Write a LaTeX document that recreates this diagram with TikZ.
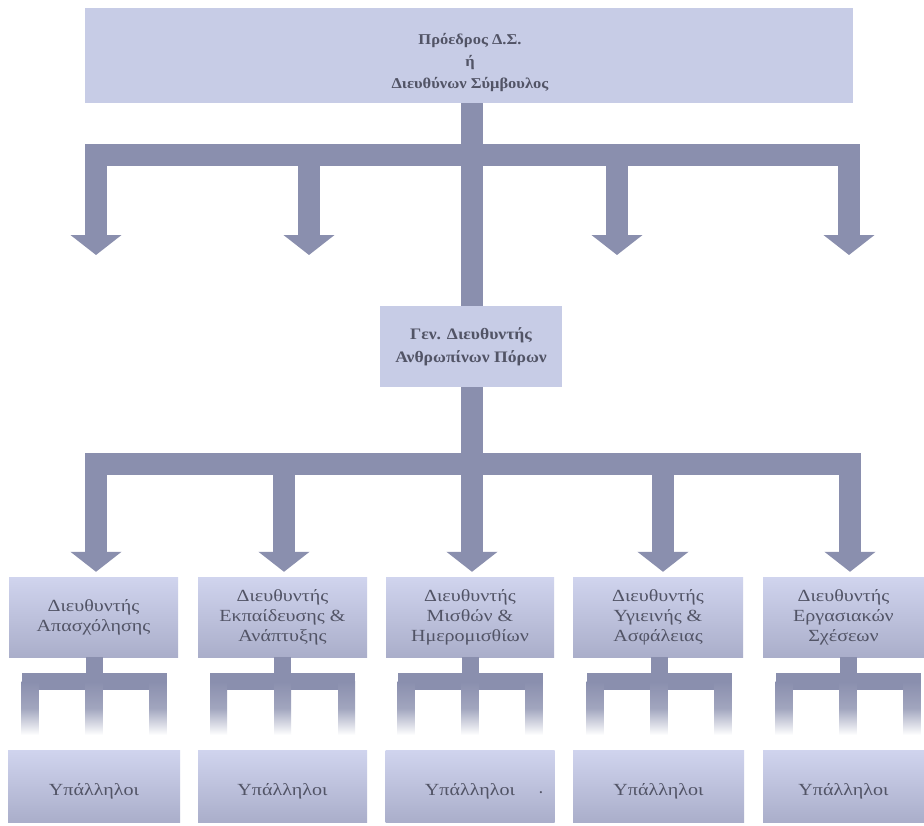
\documentclass[tikz,border=0pt]{standalone}
\usepackage{fontspec}
\setmainfont{Liberation Serif}
\newfontfamily\widefont[FakeStretch=1.18]{Liberation Serif}
\newfontfamily\headfont[FakeStretch=1.1]{Liberation Serif}
\usetikzlibrary{arrows.meta}
\definecolor{boxtop}{RGB}{208,212,238}
\definecolor{boxbot}{RGB}{170,174,202}
\definecolor{boxflat}{RGB}{199,204,230}
\definecolor{pipecol}{RGB}{138,143,174}
\definecolor{txt}{RGB}{82,84,102}
\begin{document}
\begin{tikzpicture}[x=1pt,y=-1pt,
  flatbox/.style={fill=boxflat, draw=none, inner sep=0pt, align=center, text=txt},
  gradbox/.style={top color=boxtop, bottom color=boxbot, draw=none, inner sep=0pt, align=center, text=txt,
    minimum width=169pt, font=\widefont\fontsize{17}{20}\selectfont},
  empbox/.style={gradbox, minimum height=72pt, text height=22pt, text depth=4pt},
  pipe/.style={draw=pipecol, line width=22pt},
  pipearrow/.style={pipe, -{Triangle[width=50pt,length=20pt]}},
  forkpipe/.style={draw=pipecol, line width=17pt},
  forkleg/.style={top color=pipecol, bottom color=white, middle color=pipecol!80!white}]
\fill[white] (0,0) rectangle (924,825);
\useasboundingbox (0,0) rectangle (924,825);

% top box
\node[flatbox, minimum width=768pt, minimum height=95pt] (top) at (469,55.5) {};
\node[text=txt, inner sep=0pt, align=center, font=\headfont\bfseries\fontsize{15}{22}\selectfont] (toptext) at (470,63)
  {Πρόεδρος Δ.Σ.\\ή\\Διευθύνων Σύμβουλος};
% middle box
\node[flatbox, minimum width=182pt, minimum height=81pt, font=\headfont\bfseries\fontsize{16}{23}\selectfont] (mid) at (471,346.5)
  {Γεν. Διευθυντής\\Ανθρωπίνων Πόρων};

% director boxes
\node[gradbox, minimum height=80pt, minimum width=169pt] (d1) at (93.5,617) {Διευθυντής\\Απασχόλησης};
\node[gradbox, minimum height=80pt, minimum width=169pt] (d2) at (282.5,617) {Διευθυντής\\Εκπαίδευσης \&\\Ανάπτυξης};
\node[gradbox, minimum height=80pt, minimum width=168pt] (d3) at (470,617) {Διευθυντής\\Μισθών \&\\Ημερομισθίων};
\node[gradbox, minimum height=80pt, minimum width=170pt] (d4) at (658,617) {Διευθυντής\\Υγιεινής \&\\Ασφάλειας};
\node[gradbox, minimum height=80pt, minimum width=161pt] (d5) at (843.5,617) {Διευθυντής\\Εργασιακών\\Σχέσεων};

% employee boxes
\node[empbox, minimum width=172pt] (e1) at (94,786) {Υπάλληλοι};
\node[empbox, minimum width=169pt] (e2) at (282.5,786) {Υπάλληλοι};
\node[empbox, minimum width=169pt] (e3) at (470,786) {Υπάλληλοι};
\node[empbox, minimum width=171pt] (e4) at (658.5,786) {Υπάλληλοι};
\node[empbox, minimum width=161pt] (e5) at (843.5,786) {Υπάλληλοι};
\node[text=txt, inner sep=0pt, font=\bfseries\fontsize{13}{13}\selectfont] (dot) at (541,793) {.};

% first level connectors
\coordinate (b0) at (472,154.5);
\coordinate (bL) at (96,154.5);
\coordinate (bR) at (849,154.5);
\draw[pipe] (top.south -| b0) -- (mid.north -| b0);
\draw[pipe, line cap=rect] (bL) -- (bR);
\foreach \x [count=\k] in {96,309,617,849} {
  \coordinate (ta\k) at (\x,154.5);
  \coordinate (tt\k) at (\x,255);
  \draw[pipearrow] (ta\k) -- (tt\k);
}

% second level connectors
\coordinate (c0) at (472,463.5);
\coordinate (cL) at (96,463.5);
\coordinate (cR) at (850,463.5);
\draw[pipe] (mid.south -| c0) -- (c0);
\draw[pipe, line cap=rect] (cL) -- (cR);
\foreach \x [count=\k] in {96,284,472,663,850} {
  \coordinate (ca\k) at (\x,463.5);
  \draw[pipearrow, shorten >=5pt] (ca\k) -- (ca\k |- d\k.north);
}

% forks under each director
\foreach \k/\cx in {1/94,2/282.5,3/470,4/659,5/848} {
  \coordinate (f\k) at (\cx,681.5);
  \coordinate (fl\k) at (\cx-64,681.5);
  \coordinate (fr\k) at (\cx+64,681.5);
  \draw[forkpipe] (d\k.south -| f\k) -- (f\k);
  \draw[forkpipe, line cap=rect] (fl\k) -- (fr\k);
  \foreach \lx in {-64,0,64} {
    \shade[forkleg] (\cx+\lx-8.5,681.5) rectangle (\cx+\lx+8.5,735);
  }
}
\end{tikzpicture}
\end{document}
